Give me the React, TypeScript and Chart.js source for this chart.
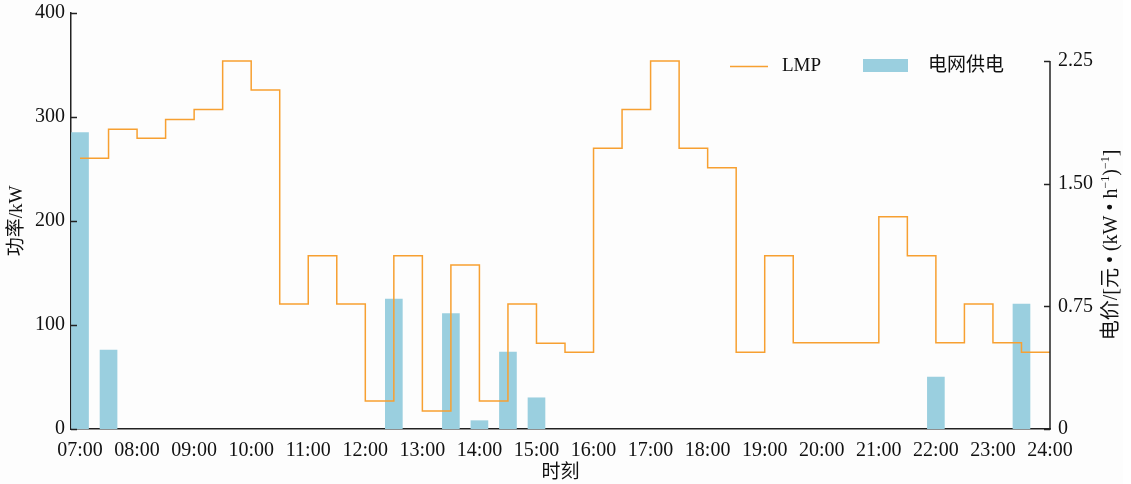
import React, { useEffect, useRef } from 'react';
import { Chart, registerables } from 'chart.js';

Chart.register(...registerables);

// Half-hour slot start times
const slotLabels = [
  '07:00', '07:30', '08:00', '08:30', '09:00', '09:30', '10:00', '10:30',
  '11:00', '11:30', '12:00', '12:30', '13:00', '13:30', '14:00', '14:30',
  '15:00', '15:30', '16:00', '16:30', '17:00', '17:30', '18:00', '18:30',
  '19:00', '19:30', '20:00', '20:30', '21:00', '21:30', '22:00', '22:30',
  '23:00', '23:30',
];
const endLabel = '24:00';

// LMP price, 元/(kW·h)
const lmpPrice = [
  1.655, 1.832, 1.777, 1.893, 1.954, 2.25, 2.072, 0.764,
  1.059, 0.764, 0.171, 1.059, 0.110, 1.002, 0.171, 0.764,
  0.524, 0.469, 1.716, 1.954, 2.25, 1.716, 1.597, 0.469,
  1.059, 0.527, 0.527, 0.527, 1.298, 1.059, 0.527, 0.764,
  0.527, 0.469,
];

// Grid supply power, kW
const gridSupply = [
  285, 76, 0, 0, 0, 0, 0, 0,
  0, 0, 0, 125, 0, 111, 8, 74,
  30, 0, 0, 0, 0, 0, 0, 0,
  0, 0, 0, 0, 0, 0, 50, 0,
  0, 120,
];

const hourTicks = [7, 8, 9, 10, 11, 12, 13, 14, 15, 16, 17, 18, 19, 20, 21, 22, 23, 24];
const powerTicks = [0, 100, 200, 300, 400];
const priceTicks = [0, 0.75, 1.5, 2.25];

const seriesNames = ['LMP', '电网供电'];
const axisTitles = { x: '时刻', y: '功率/kW' };

const FONT = "'Liberation Serif', 'Noto Sans CJK SC', serif";
const ORANGE = '#F7A031';
const BLUE = '#9ACFDF';
const AXIS = '#222222';
const TEXT = '#111111';

const toHours = (s: string) => {
  const [h, m] = s.split(':').map(Number);
  return h + m / 60;
};

export default function App() {
  const canvasRef = useRef<HTMLCanvasElement | null>(null);

  useEffect(() => {
    const canvas = canvasRef.current;
    if (!canvas) return;

    const xs = slotLabels.map(toHours);
    const lineData = xs.map((x, i) => ({ x, y: lmpPrice[i] }));
    lineData.push({ x: toHours(endLabel), y: lmpPrice[lmpPrice.length - 1] });
    const barData = xs
      .map((x, i) => ({ x, y: gridSupply[i] }))
      .filter((p) => p.y > 0);

    const noPadV = (s: any) => {
      s.paddingTop = 0;
      s.paddingBottom = 0;
    };

    const decor = {
      id: 'decor',
      afterDraw(chart: any) {
        const { ctx, chartArea, scales } = chart;
        const y = scales.y;
        const y1 = scales.y1;
        ctx.save();
        ctx.strokeStyle = AXIS;
        ctx.lineWidth = 1.5;
        // inward ticks on left axis
        powerTicks.forEach((v) => {
          const py = Math.round(y.getPixelForValue(v)) + 0.5;
          ctx.beginPath();
          ctx.moveTo(chartArea.left, py);
          ctx.lineTo(chartArea.left + 6, py);
          ctx.stroke();
        });
        // right axis line (0 to 2.25) + inward ticks
        const rx = chartArea.right;
        ctx.beginPath();
        ctx.moveTo(rx, y1.getPixelForValue(0) + 0.75);
        ctx.lineTo(rx, y1.getPixelForValue(priceTicks[priceTicks.length - 1]));
        ctx.stroke();
        priceTicks.forEach((v) => {
          const py = Math.round(y1.getPixelForValue(v)) + 0.5;
          ctx.beginPath();
          ctx.moveTo(rx - 6, py);
          ctx.lineTo(rx, py);
          ctx.stroke();
        });

        // right axis title, rotated, with superscripts
        const mainFont = `20px ${FONT}`;
        const supFont = `12px ${FONT}`;
        const parts: [string, boolean][] = [
          ['电价/[元 • (kW • h', false],
          ['−1', true],
          [')', false],
          ['−1', true],
          [']', false],
        ];
        let total = 0;
        parts.forEach(([t, sup]) => {
          ctx.font = sup ? supFont : mainFont;
          total += ctx.measureText(t).width;
        });
        const cy = (y1.getPixelForValue(0) + y1.getPixelForValue(2.25)) / 2;
        ctx.translate(1112, cy);
        ctx.rotate(-Math.PI / 2);
        ctx.fillStyle = TEXT;
        ctx.textBaseline = 'middle';
        ctx.textAlign = 'left';
        let cx = -total / 2;
        parts.forEach(([t, sup]) => {
          ctx.font = sup ? supFont : mainFont;
          ctx.fillText(t, cx, sup ? -6 : 0);
          cx += ctx.measureText(t).width;
        });
        ctx.restore();

        // legend
        ctx.save();
        ctx.strokeStyle = ORANGE;
        ctx.lineWidth = 1.5;
        ctx.beginPath();
        ctx.moveTo(730, 66.5);
        ctx.lineTo(768, 66.5);
        ctx.stroke();
        ctx.fillStyle = TEXT;
        ctx.font = `19px ${FONT}`;
        ctx.textBaseline = 'middle';
        ctx.textAlign = 'left';
        ctx.fillText(seriesNames[0], 782, 66);
        ctx.fillStyle = BLUE;
        ctx.fillRect(863, 59, 45, 13);
        ctx.fillStyle = TEXT;
        ctx.fillText(seriesNames[1], 928, 66);
        ctx.restore();
      },
    };

    const chart = new Chart(canvas, {
      type: 'bar',
      data: {
        datasets: [
          {
            type: 'line',
            label: seriesNames[0],
            data: lineData,
            yAxisID: 'y1',
            xAxisID: 'x',
            stepped: true,
            borderColor: ORANGE,
            borderWidth: 1.5,
            pointRadius: 0,
            fill: false,
            order: 0,
          } as any,
          {
            type: 'bar',
            label: seriesNames[1],
            data: barData,
            yAxisID: 'y',
            xAxisID: 'x',
            backgroundColor: BLUE,
            borderWidth: 0,
            barThickness: 17,
            order: 1,
          } as any,
        ],
      },
      options: {
        animation: false,
        responsive: true,
        maintainAspectRatio: false,
        layout: { padding: { top: 13, left: 0, right: 0, bottom: 0 } },
        plugins: { legend: { display: false }, tooltip: { enabled: false } },
        scales: {
          x: {
            type: 'linear',
            position: 'bottom',
            offset: false,
            min: 6.842,
            max: 24,
            afterBuildTicks: (s: any) => {
              s.ticks = hourTicks.map((v) => ({ value: v }));
            },
            afterFit: (s: any) => {
              s.height = 55;
              s.paddingLeft = 0;
              s.paddingRight = 0;
            },
            ticks: {
              autoSkip: false,
              maxRotation: 0,
              padding: 10,
              color: TEXT,
              font: { family: FONT, size: 20 },
              callback: (v: any) => `${String(v).padStart(2, '0')}:00`,
            },
            grid: { display: false, drawTicks: false, offset: false },
            border: { display: true, color: AXIS, width: 1.5 },
            title: {
              display: true,
              text: axisTitles.x,
              color: TEXT,
              font: { family: FONT, size: 19 },
              padding: { top: 0, bottom: 0 },
            },
          },
          y: {
            type: 'linear',
            position: 'left',
            min: 0,
            max: 400,
            afterBuildTicks: (s: any) => {
              s.ticks = powerTicks.map((v) => ({ value: v }));
            },
            afterFit: (s: any) => {
              s.width = 71;
              noPadV(s);
            },
            ticks: {
              padding: 6,
              color: TEXT,
              font: { family: FONT, size: 20 },
            },
            grid: { display: false, drawTicks: false },
            border: { display: true, color: AXIS, width: 1.5 },
            title: {
              display: true,
              text: axisTitles.y,
              color: TEXT,
              font: { family: FONT, size: 19 },
              padding: { top: 6, bottom: 0 },
            },
          },
          y1: {
            type: 'linear',
            position: 'right',
            min: 0,
            max: 2.25 * 416 / 368,
            afterBuildTicks: (s: any) => {
              s.ticks = priceTicks.map((v) => ({ value: v }));
            },
            afterFit: (s: any) => {
              s.width = 81;
              noPadV(s);
            },
            ticks: {
              padding: 8,
              color: TEXT,
              font: { family: FONT, size: 20 },
              callback: (v: any) => (v === 0 ? '0' : Number(v).toFixed(2)),
            },
            grid: { display: false, drawTicks: false },
            border: { display: false },
          },
        },
      },
      plugins: [decor],
    } as any);

    return () => chart.destroy();
  }, []);

  return (
    <div
      style={{
        position: 'fixed',
        left: 0,
        top: 0,
        width: 1131,
        height: 484,
        background: '#ffffff',
      }}
    >
      <div style={{ position: 'absolute', left: 0, top: 0, width: 1123, height: 484, background: '#fdfdfd' }} />
      <div style={{ position: 'absolute', left: 0, top: 0, width: 1131, height: 484 }}>
        <canvas ref={canvasRef} />
      </div>
    </div>
  );
}
